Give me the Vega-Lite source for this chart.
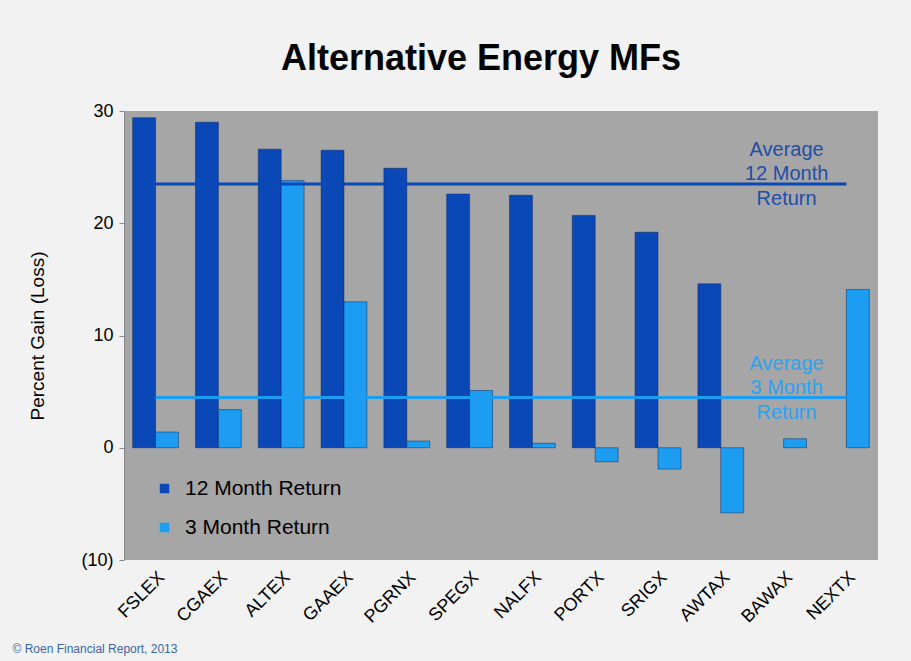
{
  "$schema": "https://vega.github.io/schema/vega-lite/v6.json",
  "width": 754,
  "height": 449,
  "autosize": {"type": "none"},
  "padding": {"left": 124, "top": 111, "right": 33, "bottom": 101},
  "background": "#F2F2F2",
  "title": {
    "text": "Alternative Energy MFs",
    "font": "Liberation Sans",
    "fontSize": 36,
    "fontWeight": "bold",
    "color": "#000000",
    "anchor": "middle",
    "dx": -20,
    "offset": 24
  },
  "config": {
    "view": {"fill": "#A6A6A6", "stroke": null},
    "font": "Liberation Sans"
  },
  "datasets": {
    "returns": [
      {"fund": "FSLEX", "series": "12 Month Return", "value": 29.4},
      {"fund": "FSLEX", "series": "3 Month Return", "value": 1.4},
      {"fund": "CGAEX", "series": "12 Month Return", "value": 29.0},
      {"fund": "CGAEX", "series": "3 Month Return", "value": 3.4},
      {"fund": "ALTEX", "series": "12 Month Return", "value": 26.6},
      {"fund": "ALTEX", "series": "3 Month Return", "value": 23.8},
      {"fund": "GAAEX", "series": "12 Month Return", "value": 26.5},
      {"fund": "GAAEX", "series": "3 Month Return", "value": 13.0},
      {"fund": "PGRNX", "series": "12 Month Return", "value": 24.9},
      {"fund": "PGRNX", "series": "3 Month Return", "value": 0.6},
      {"fund": "SPEGX", "series": "12 Month Return", "value": 22.6},
      {"fund": "SPEGX", "series": "3 Month Return", "value": 5.1},
      {"fund": "NALFX", "series": "12 Month Return", "value": 22.5},
      {"fund": "NALFX", "series": "3 Month Return", "value": 0.4},
      {"fund": "PORTX", "series": "12 Month Return", "value": 20.7},
      {"fund": "PORTX", "series": "3 Month Return", "value": -1.25},
      {"fund": "SRIGX", "series": "12 Month Return", "value": 19.2},
      {"fund": "SRIGX", "series": "3 Month Return", "value": -1.9},
      {"fund": "AWTAX", "series": "12 Month Return", "value": 14.6},
      {"fund": "AWTAX", "series": "3 Month Return", "value": -5.8},
      {"fund": "BAWAX", "series": "3 Month Return", "value": 0.8},
      {"fund": "NEXTX", "series": "3 Month Return", "value": 14.1}
    ],
    "averages": [
      {"series": "12 Month Return", "avg": 23.5, "from": "FSLEX", "to": "NEXTX", "labelAt": "BAWAX", "label": ["Average", "12 Month", "Return"]},
      {"series": "3 Month Return", "avg": 4.47, "from": "FSLEX", "to": "NEXTX", "labelAt": "BAWAX", "label": ["Average", "3 Month", "Return"]}
    ]
  },
  "encoding": {
    "x": {
      "field": "fund",
      "type": "nominal",
      "sort": ["FSLEX","CGAEX","ALTEX","GAAEX","PGRNX","SPEGX","NALFX","PORTX","SRIGX","AWTAX","BAWAX","NEXTX"],
      "scale": {"domain": ["FSLEX","CGAEX","ALTEX","GAAEX","PGRNX","SPEGX","NALFX","PORTX","SRIGX","AWTAX","BAWAX","NEXTX"], "paddingInner": 0.27, "paddingOuter": 0.138},
      "axis": {
        "title": "© Roen Financial Report, 2013",
        "titleFont": "Liberation Sans",
        "titleFontSize": 12,
        "titleFontWeight": "normal",
        "titleColor": "#3A66A8",
        "titleAnchor": "start",
        "titleAlign": "left",
        "titleX": -112,
        "titleY": 83,
        "labelAngle": -45,
        "labelFontSize": 18,
        "labelColor": "#000000",
        "labelPadding": 8,
        "ticks": false,
        "domain": false
      }
    }
  },
  "layer": [
    {
      "data": {"name": "returns"},
      "mark": {"type": "bar", "stroke": "#06245E", "strokeWidth": 0.8, "strokeOpacity": 0.6},
      "encoding": {
        "y": {
          "field": "value",
          "type": "quantitative",
          "scale": {"domain": [-10, 30], "nice": false, "zero": false},
          "axis": {
            "title": "Percent Gain (Loss)",
            "titleFontSize": 19,
            "titleFontWeight": "normal",
            "titleColor": "#000000",
            "titlePadding": 33,
            "values": [-10, 0, 10, 20, 30],
            "labelExpr": "datum.value < 0 ? '(' + abs(datum.value) + ')' : datum.value",
            "labelFontSize": 18,
            "labelColor": "#000000",
            "labelPadding": 6,
            "tickColor": "#888888",
            "tickSize": 5,
            "domainColor": "#888888",
            "grid": false
          }
        },
        "xOffset": {"field": "series", "type": "nominal", "sort": ["12 Month Return", "3 Month Return"], "scale": {"domain": ["12 Month Return", "3 Month Return"], "paddingInner": 0, "paddingOuter": 0}},
        "color": {
          "field": "series",
          "type": "nominal",
          "scale": {"domain": ["12 Month Return", "3 Month Return"], "range": ["#0A48B8", "#1C9DF2"]},
          "legend": {
            "title": null,
            "orient": "none",
            "legendX": 30,
            "legendY": 367,
            "symbolType": "square",
            "symbolSize": 90,
            "symbolStrokeWidth": 0,
            "labelFontSize": 21,
            "labelColor": "#000000",
            "labelOffset": 10,
            "rowPadding": 17,
            "labelLimit": 300
          }
        }
      }
    },
    {
      "mark": {"type": "rule", "color": "#707070", "strokeWidth": 1},
      "encoding": {"y": {"datum": 0}, "x": {"value": 0}, "x2": {"value": 754}}
    },
    {
      "data": {"name": "averages"},
      "mark": {"type": "rule", "strokeWidth": 3},
      "encoding": {
        "x": {"field": "from", "type": "nominal", "sort": ["FSLEX","CGAEX","ALTEX","GAAEX","PGRNX","SPEGX","NALFX","PORTX","SRIGX","AWTAX","BAWAX","NEXTX"]},
        "x2": {"field": "to"},
        "y": {"field": "avg", "type": "quantitative"},
        "color": {"field": "series", "type": "nominal", "scale": {"domain": ["12 Month Return", "3 Month Return"], "range": ["#0A48B8", "#1C9DF2"]}, "legend": null}
      }
    },
    {
      "data": {"name": "averages"},
      "mark": {"type": "text", "fontSize": 20, "lineHeight": 24.5, "baseline": "middle", "align": "center", "dx": 3, "dy": -34},
      "encoding": {
        "x": {"field": "labelAt", "type": "nominal", "sort": ["FSLEX","CGAEX","ALTEX","GAAEX","PGRNX","SPEGX","NALFX","PORTX","SRIGX","AWTAX","BAWAX","NEXTX"]},
        "y": {"field": "avg", "type": "quantitative"},
        "text": {"field": "label"},
        "color": {"field": "series", "type": "nominal", "scale": {"domain": ["12 Month Return", "3 Month Return"], "range": ["#1F4EA8", "#2AA2F2"]}, "legend": null}
      }
    }
  ],
  "resolve": {"scale": {"color": "independent"}}
}
